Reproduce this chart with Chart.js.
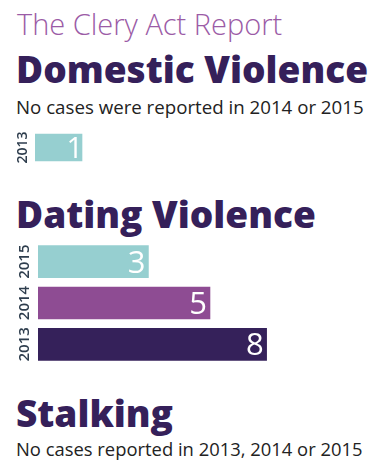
<!DOCTYPE html>
<html>
<head>
<meta charset="utf-8">
<script src="https://cdn.jsdelivr.net/npm/chart.js@4"></script>
<style>
  html, body { margin: 0; padding: 0; background: #ffffff; }
  body { width: 380px; height: 472px; position: relative; overflow: hidden; font-family: "Open Sans", sans-serif; }
  .t { position: absolute; left: 16px; white-space: nowrap; line-height: 1; }
  #title { top: 9px; font-size: 29px; font-weight: 300; color: #9b5ba6; left: 17px; }
  .h { font-size: 37px; font-weight: 800; color: #35205a; }
  .s { font-weight: 400; color: #222222; }
  #h1 { top: 50px; }
  #s1 { top: 98px; font-size: 18.7px; }
  #h2 { top: 195px; }
  #h3 { top: 394px; }
  #s3 { top: 440px; font-size: 18.4px; }
  .cw { position: absolute; left: 0; }
  #c1w { top: 131px; width: 364px; height: 33px; }
  #c2w { top: 241px; width: 380px; height: 124px; }
</style>
</head>
<body>
<div class="t" id="title">The Clery Act Report</div>
<div class="t h" id="h1">Domestic Violence</div>
<div class="t s" id="s1">No cases were reported in 2014 or 2015</div>
<div class="cw" id="c1w"><canvas id="c1"></canvas></div>
<div class="t h" id="h2">Dating Violence</div>
<div class="cw" id="c2w"><canvas id="c2"></canvas></div>
<div class="t h" id="h3">Stalking</div>
<div class="t s" id="s3">No cases reported in 2013, 2014 or 2015</div>
<script>
// Data
const domesticYears = ['2013'];
const domesticValues = [1];
const datingYears = ['2015', '2014', '2013'];
const datingValues = [3, 5, 8];

const teal = '#96cfd0';
const purple = '#8e4c93';
const dark = '#35215a';

const valueLabels = {
  id: 'valueLabels',
  afterDatasetsDraw(chart, args, opts) {
    const ctx = chart.ctx;
    const meta = chart.getDatasetMeta(0);
    const ds = chart.data.datasets[0];
    ctx.save();
    ctx.fillStyle = '#ffffff';
    ctx.font = '400 ' + opts.size + 'px "Open Sans"';
    ctx.textAlign = 'right';
    ctx.textBaseline = 'alphabetic';
    meta.data.forEach((bar, i) => {
      ctx.fillText(String(ds.data[i]), bar.x - opts.pad, bar.y + opts.size * 0.357);
    });
    ctx.restore();
  }
};

function yAxis(width, pad, size) {
  return {
    type: 'category',
    position: 'left',
    grid: { display: false, drawTicks: false },
    border: { display: false },
    ticks: {
      minRotation: 90, maxRotation: 90,
      crossAlign: 'center',
      padding: pad,
      autoSkip: false,
      color: '#2e3d4d',
      font: { family: 'Open Sans', size: size, weight: '600' }
    },
    afterFit(scale) {
      scale.width = width;
      scale.paddingTop = 0;
      scale.paddingBottom = 0;
    }
  };
}

new Chart(document.getElementById('c1'), {
  type: 'bar',
  data: {
    labels: domesticYears,
    datasets: [{ data: domesticValues, backgroundColor: [teal], barThickness: 27, borderWidth: 0 }]
  },
  options: {
    indexAxis: 'y',
    responsive: true,
    maintainAspectRatio: false,
    animation: false,
    layout: { padding: 0 },
    plugins: { legend: { display: false }, tooltip: { enabled: false }, valueLabels: { size: 29, pad: -1 } },
    scales: {
      x: { type: 'linear', min: 0, max: 7, display: false },
      y: yAxis(35, -4, 14)
    }
  },
  plugins: [valueLabels]
});

new Chart(document.getElementById('c2'), {
  type: 'bar',
  data: {
    labels: datingYears,
    datasets: [{ data: datingValues, backgroundColor: [teal, purple, dark], barThickness: 32, borderWidth: 0 }]
  },
  options: {
    indexAxis: 'y',
    responsive: true,
    maintainAspectRatio: false,
    animation: false,
    layout: { padding: 0 },
    plugins: { legend: { display: false }, tooltip: { enabled: false }, valueLabels: { size: 31, pad: 3 } },
    scales: {
      x: { type: 'logarithmic', min: 1.2, max: 20.5, display: false },
      y: yAxis(38, -4, 15)
    }
  },
  plugins: [valueLabels]
});
</script>
</body>
</html>
